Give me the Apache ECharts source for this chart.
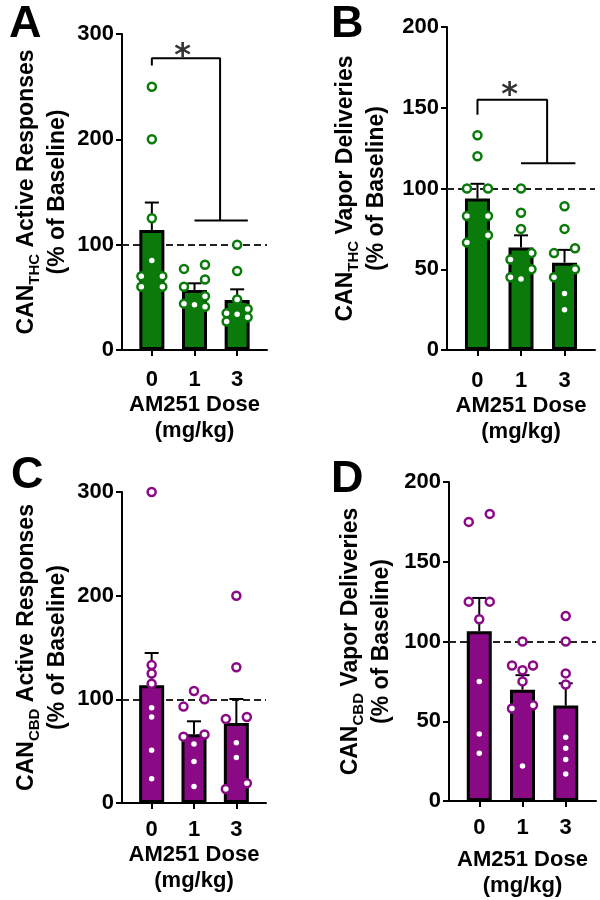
<!DOCTYPE html>
<html><head><meta charset="utf-8">
<script src="https://cdn.jsdelivr.net/npm/echarts@6/dist/echarts.min.js"></script>
<style>html,body{margin:0;padding:0;background:#fff}#c{width:600px;height:900px}</style>
</head><body><div id="c"></div>
<script>
const doses = ['0', '1', '3'];

// Panel A: CAN_THC active responses (% of baseline)
const meanA = [114, 57, 47.5];
const semA = [26, 6.3, 10.1];
const ptsA0 = [250, 200, 125, 85, 70, 70, 60, 60];
const ptsA1 = [81, 77, 67, 60, 51, 44, 43, 41];
const ptsA3 = [100, 75, 48, 39, 35, 34, 31, 27];

// Panel B: CAN_THC vapor deliveries
const meanB = [93.8, 63.4, 54.1];
const semB = [9.1, 7.6, 7.9];
const ptsB0 = [133, 120, 100, 100, 83, 83, 71, 66.5];
const ptsB1 = [100, 85, 75, 60, 56, 50, 45, 44];
const ptsB3 = [89, 75, 63, 60, 50, 45, 35, 25];

// Panel C: CAN_CBD active responses
const meanC = [113.5, 66.3, 77.2];
const semC = [31.2, 12.5, 23.1];
const ptsC0 = [300, 133, 125, 115, 92, 83, 51, 23.5];
const ptsC1 = [108, 100, 93, 66, 64, 57, 40, 16];
const ptsC3 = [200, 131, 83, 81, 58, 44, 19, 13.5];

// Panel D: CAN_CBD vapor deliveries
const meanD = [106.5, 69.8, 59.8];
const semD = [20.8, 9.1, 14];
const ptsD0 = [180, 175, 125, 125, 114, 75, 42, 30];
const ptsD1 = [100, 85, 85, 82, 75, 60, 58, 22];
const ptsD3 = [116, 100, 80, 73, 40, 33, 26, 17];

// significance brackets: [left-leg bottom, top, lower bar] (y units); star [x, y]
const sigA = [270, 277, 123];
const starA = [0.72, 285];
const sigB = [145.6, 155, 115.7];
const starB = [0.74, 162];

const FONT = '"Liberation Sans", Arial, Helvetica, sans-serif';
const GREEN = '#0a7a0a';
const PURPLE = '#8a0a86';

const panels = [
  {letter: 'A', lpos: [9, 2], grid: {left: 122, top: 34, width: 145, height: 316}, yMax: 300, yInt: 100,
   color: GREEN, mean: meanA, sem: semA, pts: [ptsA0, ptsA1, ptsA3], sub: 'THC', yTitle: ' Active Responses',
   nameGap: 44, xMargin: 19, xNameGap: 36, sig: sigA, star: starA},
  {letter: 'B', lpos: [331, 2], grid: {left: 447, top: 27, width: 148, height: 323}, yMax: 200, yInt: 50,
   color: GREEN, mean: meanB, sem: semB, pts: [ptsB0, ptsB1, ptsB3], sub: 'THC', yTitle: ' Vapor Deliveries',
   nameGap: 55, xMargin: 20, xNameGap: 41, sig: sigB, star: starB},
  {letter: 'C', lpos: [11, 453], grid: {left: 122, top: 492, width: 144, height: 311}, yMax: 300, yInt: 100,
   color: PURPLE, mean: meanC, sem: semC, pts: [ptsC0, ptsC1, ptsC3], sub: 'CBD', yTitle: ' Active Responses',
   nameGap: 43, xMargin: 16, xNameGap: 39},
  {letter: 'D', lpos: [331, 457], grid: {left: 449, top: 482, width: 147, height: 321}, yMax: 200, yInt: 50,
   color: PURPLE, mean: meanD, sem: semD, pts: [ptsD0, ptsD1, ptsD3], sub: 'CBD', yTitle: ' Vapor Deliveries',
   nameGap: 52, xMargin: 16, xNameGap: 46}
];

const XMIN = -0.7, XMAX = 2.7;
const STEP_PX = 10.5, HIT_PX = 8.2;

// simple beeswarm: integer column offsets for each value
function swarm(vals, pxPerUnit) {
  const order = vals.map((v, i) => i).sort((a, b) => vals[b] - vals[a]);
  const placed = [];
  const cols = new Array(vals.length).fill(0);
  const hits = (y, c, skip) => placed.some(p => p !== skip && p.col === c && Math.abs(p.y - y) < HIT_PX);
  const add = (i, y, c) => { placed.push({i, y, col: c}); cols[i] = c; };
  order.forEach(i => {
    const y = vals[i] * pxPerUnit;
    if (!hits(y, 0)) { add(i, y, 0); return; }
    const prev = placed[placed.length - 1];
    if (prev && prev.col === 0 && Math.abs(prev.y - y) < HIT_PX && !hits(prev.y, 1, prev) && !hits(y, -1)) {
      prev.col = 1; cols[prev.i] = 1; add(i, y, -1); return;
    }
    for (const c of [-1, 1, -2, 2]) { if (!hits(y, c)) { add(i, y, c); return; } }
    add(i, y, 0);
  });
  return cols;
}

const option = {animation: false, backgroundColor: '#fff', title: [], grid: [], xAxis: [], yAxis: [], series: []};

panels.forEach((p, k) => {
  option.title.push({text: p.letter, left: p.lpos[0], top: p.lpos[1], padding: 0,
    textStyle: {fontFamily: FONT, fontSize: 45, fontWeight: 'bold', color: '#000'}});
  option.grid.push(Object.assign({containLabel: false}, p.grid));
  const lineStyle = {color: '#000', width: 2};
  option.xAxis.push({
    type: 'value', gridIndex: k, min: XMIN, max: XMAX,
    axisLine: {show: true, onZero: false, lineStyle},
    axisTick: {show: true, length: 6, lineStyle, customValues: [0, 1, 2]},
    axisLabel: {customValues: [0, 1, 2], formatter: v => doses[Math.round(v)], margin: p.xMargin,
      fontFamily: FONT, fontSize: 22, fontWeight: 'bold', color: '#000'},
    splitLine: {show: false},
    name: 'AM251 Dose\n(mg/kg)', nameLocation: 'middle', nameGap: p.xNameGap,
    nameTextStyle: {fontFamily: FONT, fontSize: 22, fontWeight: 'bold', color: '#000', lineHeight: 26}
  });
  option.yAxis.push({
    type: 'value', gridIndex: k, min: 0, max: p.yMax, interval: p.yInt,
    axisLine: {show: true, onZero: false, lineStyle},
    axisTick: {show: true, length: 6, lineStyle},
    axisLabel: {margin: 8, fontFamily: FONT, fontSize: 22, fontWeight: 'bold', color: '#000'},
    splitLine: {show: false},
    name: '{n|CAN}{s|' + p.sub + '}{n|' + p.yTitle + '}\n{n|(% of Baseline)}',
    nameLocation: 'middle', nameGap: p.nameGap, nameRotate: 90,
    nameTextStyle: {fontFamily: FONT, fontSize: 23, fontWeight: 'bold', color: '#000', lineHeight: 31,
      rich: {
        n: {fontFamily: FONT, fontSize: 23, fontWeight: 'bold', color: '#000', lineHeight: 31},
        s: {fontFamily: FONT, fontSize: 15, fontWeight: 'bold', color: '#000', lineHeight: 16, verticalAlign: 'bottom'}
      }}
  });

  // bars
  option.series.push({
    type: 'bar', xAxisIndex: k, yAxisIndex: k, barWidth: 25, z: 2,
    data: p.mean.map((m, i) => [i, m]),
    itemStyle: {color: p.color, borderColor: '#000', borderWidth: 3},
    markLine: {silent: true, symbol: 'none', z: 1, label: {show: false},
      lineStyle: {type: [7, 4], color: '#222', width: 2}, data: [{yAxis: 100}]}
  });
  // error bars (upper)
  option.series.push({
    type: 'custom', xAxisIndex: k, yAxisIndex: k, z: 3,
    data: p.mean.map((m, i) => [i, m, p.sem[i]]),
    encode: {x: 0, y: 1},
    renderItem: (params, api) => {
      const x = api.value(0), m = api.value(1), s = api.value(2);
      const a = api.coord([x, m]), b = api.coord([x, m + s]);
      return {type: 'group', children: [
        {type: 'line', shape: {x1: a[0], y1: a[1], x2: b[0], y2: b[1]}, style: {stroke: '#000', lineWidth: 2}},
        {type: 'line', shape: {x1: b[0] - 7, y1: b[1], x2: b[0] + 7, y2: b[1]}, style: {stroke: '#000', lineWidth: 2}}
      ]};
    }
  });
  // individual points
  const pxPerUnit = p.grid.height / p.yMax;
  const unitsPerPx = (XMAX - XMIN) / p.grid.width;
  const pts = [];
  p.pts.forEach((vals, g) => {
    const cols = swarm(vals, pxPerUnit);
    vals.forEach((v, i) => pts.push([g + cols[i] * STEP_PX * unitsPerPx, v]));
  });
  option.series.push({
    type: 'scatter', xAxisIndex: k, yAxisIndex: k, z: 4, symbol: 'circle', symbolSize: 8,
    data: pts, itemStyle: {color: '#fff', borderColor: p.color, borderWidth: 2.5, opacity: 1}
  });
  // significance bracket
  if (p.sig) {
    const [leg, top, low] = p.sig;
    option.series.push({
      type: 'line', xAxisIndex: k, yAxisIndex: k, z: 5, showSymbol: false, symbol: 'none',
      data: [[0, leg], [0, top], [1.6, top], [1.6, low], [1, low], [2.25, low]],
      lineStyle: {color: '#000', width: 2}
    });
    option.series.push({
      type: 'scatter', xAxisIndex: k, yAxisIndex: k, z: 5, symbolSize: 1,
      itemStyle: {color: 'rgba(0,0,0,0)'},
      data: [p.star],
      label: {show: true, position: 'inside', formatter: '*', offset: [0, 7],
        fontFamily: '"DejaVu Sans", sans-serif', fontSize: 32, fontWeight: 'bold', color: '#000'}
    });
  }
});

const chart = echarts.init(document.getElementById('c'), null, {renderer: 'canvas'});
chart.setOption(option);
</script></body></html>
